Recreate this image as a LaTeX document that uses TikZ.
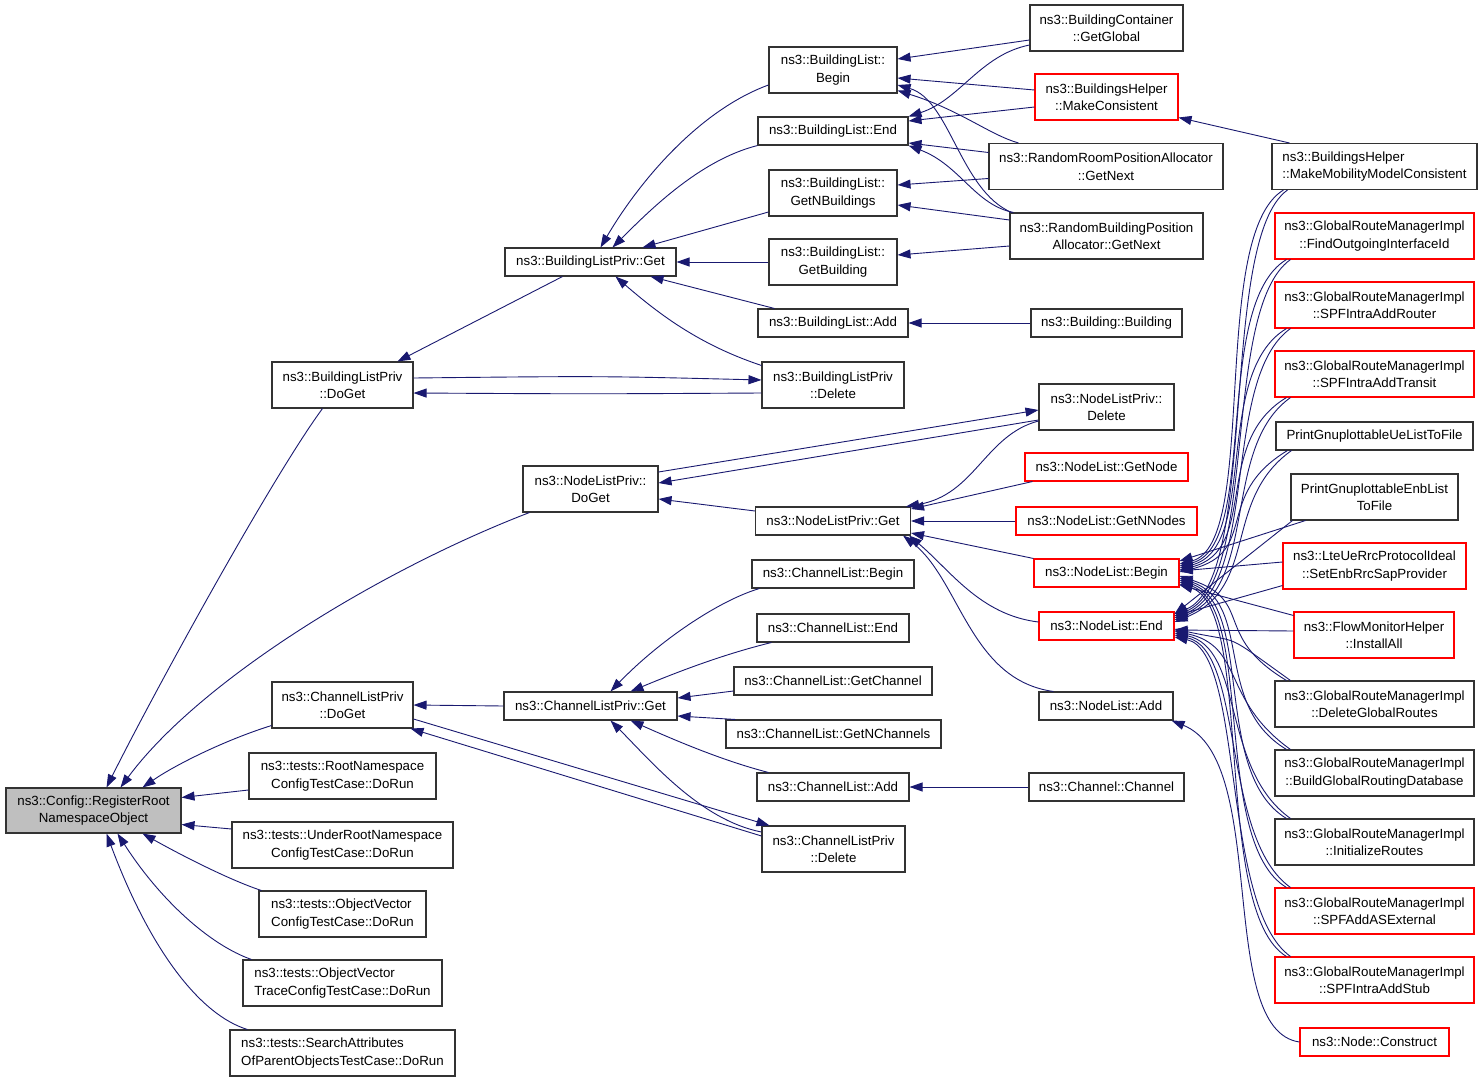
\documentclass[tikz,border=0pt]{standalone}
\usepackage{fontspec}
\setmainfont{Liberation Sans}
\usetikzlibrary{arrows.meta,calc}
\definecolor{edgec}{HTML}{191970}
\definecolor{redc}{HTML}{FF0000}
\definecolor{grayc}{HTML}{BFBFBF}
\definecolor{boxc}{HTML}{333333}
\begin{document}
\begin{tikzpicture}[x=1pt,y=-1pt,
  box/.style={draw=boxc, line width=1.05pt, fill=white, inner sep=0pt, align=center,
              font=\fontsize{13.3}{17.5}\selectfont},
  rbox/.style={box, draw=redc},
  edge/.style={draw=edgec, line width=0.9pt, arrows={Triangle[length=13pt,width=9pt]-}}]
\useasboundingbox (0,0) rectangle (1483,1081);
\fill[white] (0,0) rectangle (1483,1081);

% column 1
\node[box,fill=grayc,minimum width=175,minimum height=45] (rr) at (93.5,810.5) {ns3::Config::RegisterRoot\\NamespaceObject};
% column 2
\node[box,minimum width=187,minimum height=46] (t1) at (342.5,776) {ns3::tests::RootNamespace\\ConfigTestCase::DoRun};
\node[box,minimum width=221,minimum height=46] (t2) at (342.5,845) {ns3::tests::UnderRootNamespace\\ConfigTestCase::DoRun};
\node[box,align=left,minimum width=167,minimum height=46] (t3) at (342.5,914) {ns3::tests::ObjectVector\\ConfigTestCase::DoRun};
\node[box,align=left,minimum width=199,minimum height=46] (t4) at (342.5,983) {ns3::tests::ObjectVector\\TraceConfigTestCase::DoRun};
\node[box,align=left,minimum width=225,minimum height=46] (t5) at (342.5,1053) {ns3::tests::SearchAttributes\\OfParentObjectsTestCase::DoRun};
\node[box,minimum width=141,minimum height=46] (bpd) at (342.5,385) {ns3::BuildingListPriv\\::DoGet};
\node[box,minimum width=141,minimum height=46] (cpd) at (342.5,705) {ns3::ChannelListPriv\\::DoGet};
% column 3
\node[box,minimum width=135,minimum height=46] (npd) at (590.5,489) {ns3::NodeListPriv::\\DoGet};
\node[box,minimum width=171,minimum height=28] (bpg) at (590.5,262) {ns3::BuildingListPriv::Get};
\node[box,minimum width=173,minimum height=28] (cpg) at (590.5,706) {ns3::ChannelListPriv::Get};
% column 4
\node[box,minimum width=128,minimum height=46] (blbegin) at (833,70) {ns3::BuildingList::\\Begin};
\node[box,minimum width=150,minimum height=28] (blend) at (833,131) {ns3::BuildingList::End};
\node[box,minimum width=128,minimum height=46] (blgnb) at (833,193) {ns3::BuildingList::\\GetNBuildings};
\node[box,minimum width=128,minimum height=46] (blgb) at (833,262) {ns3::BuildingList::\\GetBuilding};
\node[box,minimum width=150,minimum height=28] (bladd) at (833,323) {ns3::BuildingList::Add};
\node[box,minimum width=142,minimum height=46] (bpdel) at (833,385) {ns3::BuildingListPriv\\::Delete};
\node[box,minimum width=155,minimum height=28] (npg) at (833,521) {ns3::NodeListPriv::Get};
\node[box,minimum width=162,minimum height=28] (clbegin) at (833,574) {ns3::ChannelList::Begin};
\node[box,minimum width=152,minimum height=28] (clend) at (833,628) {ns3::ChannelList::End};
\node[box,minimum width=198,minimum height=28] (clgc) at (833,681) {ns3::ChannelList::GetChannel};
\node[box,minimum width=215,minimum height=28] (clgnc) at (833.5,734) {ns3::ChannelList::GetNChannels};
\node[box,minimum width=152,minimum height=28] (cladd) at (833,787) {ns3::ChannelList::Add};
\node[box,minimum width=143,minimum height=46] (cpdel) at (833.5,849) {ns3::ChannelListPriv\\::Delete};
% column 5
\node[box,minimum width=153,minimum height=46] (bc) at (1106.5,28) {ns3::BuildingContainer\\::GetGlobal};
\node[rbox,minimum width=143,minimum height=46] (bhmc) at (1106.5,97) {ns3::BuildingsHelper\\::MakeConsistent};
\node[box,minimum width=234,minimum height=46] (rrpa) at (1106,166.5) {ns3::RandomRoomPositionAllocator\\::GetNext};
\node[box,minimum width=193,minimum height=46] (rbpa) at (1106.5,236) {ns3::RandomBuildingPosition\\Allocator::GetNext};
\node[box,minimum width=151,minimum height=28] (bb) at (1106.5,323) {ns3::Building::Building};
\node[box,minimum width=135,minimum height=46] (npdel) at (1106.5,407) {ns3::NodeListPriv::\\Delete};
\node[rbox,minimum width=163,minimum height=28] (nlgn) at (1106.5,467) {ns3::NodeList::GetNode};
\node[rbox,minimum width=181,minimum height=28] (nlgnn) at (1106.5,521) {ns3::NodeList::GetNNodes};
\node[rbox,minimum width=145,minimum height=28] (nlbegin) at (1106.5,573) {ns3::NodeList::Begin};
\node[rbox,minimum width=135,minimum height=28] (nlend) at (1106.5,626) {ns3::NodeList::End};
\node[box,minimum width=134,minimum height=28] (nladd) at (1106,706) {ns3::NodeList::Add};
\node[box,minimum width=155,minimum height=28] (ch) at (1106.5,787) {ns3::Channel::Channel};
% column 6
\node[box,align=left,minimum width=205,minimum height=46] (m6) at (1374.5,166.5) {ns3::BuildingsHelper\\::MakeMobilityModelConsistent};
\node[rbox,minimum width=199,minimum height=46] (g1) at (1374.5,236) {ns3::GlobalRouteManagerImpl\\::FindOutgoingInterfaceId};
\node[rbox,minimum width=199,minimum height=46] (g2) at (1374.5,305) {ns3::GlobalRouteManagerImpl\\::SPFIntraAddRouter};
\node[rbox,minimum width=199,minimum height=46] (g3) at (1374.5,374) {ns3::GlobalRouteManagerImpl\\::SPFIntraAddTransit};
\node[box,minimum width=197,minimum height=28] (pu) at (1374.5,436) {PrintGnuplottableUeListToFile};
\node[box,minimum width=167,minimum height=46] (pe) at (1374.5,497) {PrintGnuplottableEnbList\\ToFile};
\node[rbox,minimum width=183,minimum height=46] (lte) at (1374.5,566) {ns3::LteUeRrcProtocolIdeal\\::SetEnbRrcSapProvider};
\node[rbox,minimum width=160,minimum height=46] (fm) at (1374,635) {ns3::FlowMonitorHelper\\::InstallAll};
\node[box,minimum width=199,minimum height=46] (g4) at (1374.5,704) {ns3::GlobalRouteManagerImpl\\::DeleteGlobalRoutes};
\node[box,minimum width=199,minimum height=46] (g5) at (1374.5,773) {ns3::GlobalRouteManagerImpl\\::BuildGlobalRoutingDatabase};
\node[box,minimum width=199,minimum height=46] (g6) at (1374.5,842) {ns3::GlobalRouteManagerImpl\\::InitializeRoutes};
\node[rbox,minimum width=199,minimum height=46] (g7) at (1374.5,911) {ns3::GlobalRouteManagerImpl\\::SPFAddASExternal};
\node[rbox,minimum width=199,minimum height=46] (g8) at (1374.5,980) {ns3::GlobalRouteManagerImpl\\::SPFIntraAddStub};
\node[rbox,minimum width=149,minimum height=28] (nc) at (1374.5,1042) {ns3::Node::Construct};

% ---- edges into RegisterRoot
\draw[edge] ($(rr.north)+(13,0)$) .. controls (150,700) and (270,480) .. ($(bpd.south)+(-20,0)$);
\draw[edge] ($(rr.north)+(27,0)$) .. controls (200,680) and (380,570) .. ($(npd.south west)+(7,0)$);
\draw[edge] ($(rr.north)+(49,0)$) .. controls (175,765) and (225,740) .. ($(cpd.south west)+(0,-3)$);
\draw[edge] ($(rr.east)+(0,-13)$) -- ($(t1.west)+(0,14)$);
\draw[edge] ($(rr.east)+(0,14)$) -- ($(t2.west)+(0,-16)$);
\draw[edge] ($(rr.south)+(49,0)$) .. controls (190,860) and (235,882) .. ($(t3.north west)+(3,0)$);
\draw[edge] ($(rr.south)+(24,0)$) .. controls (160,900) and (210,945) .. ($(t4.north west)+(9,0)$);
\draw[edge] ($(rr.south)+(13,0)$) .. controls (150,950) and (200,1015) .. ($(t5.north west)+(18,0)$);

% ---- BuildingListPriv
\draw[edge] ($(bpd.north)+(55,0)$) -- ($(bpg.south)+(-28,0)$);
\draw[edge] ($(bpdel.west)+(0,-5)$) .. controls (600,376) .. ($(bpd.east)+(0,-7)$);
\draw[edge] ($(bpd.east)+(0,8)$) .. controls (590,394) .. ($(bpdel.west)+(0,8)$);
\draw[edge] ($(bpg.north)+(10,0)$) .. controls (640,180) and (700,110) .. ($(blbegin.west)+(0,15)$);
\draw[edge] ($(bpg.north)+(22,0)$) .. controls (650,210) and (700,160) .. ($(blend.south west)+(0,0)$);
\draw[edge] ($(bpg.north)+(52,0)$) -- ($(blgnb.west)+(0,19)$);
\draw[edge] (bpg.east) -- (blgb.west);
\draw[edge] ($(bpg.south)+(60,0)$) -- ($(bladd.north west)+(17,0)$);
\draw[edge] ($(bpg.south)+(25,0)$) .. controls (660,315) and (700,345) .. ($(bpdel.north west)+(0,4)$);

% ---- BuildingList callers
\draw[edge] ($(blbegin.east)+(0,-11)$) -- ($(bc.west)+(0,12)$);
\draw[edge] ($(blbegin.east)+(0,8)$) -- ($(bhmc.west)+(0,-7)$);
\draw[edge] ($(blbegin.south east)+(0,-3)$) .. controls (960,110) and (990,135) .. ($(rrpa.north west)+(30,0)$);
\draw[edge] ($(blbegin.east)+(0,15)$) .. controls (950,100) and (960,190) .. ($(rbpa.north west)+(2,0)$);
\draw[edge] (blend.north east) .. controls (960,100) and (980,55) .. ($(bc.west)+(0,17)$);
\draw[edge] ($(blend.east)+(0,-10)$) -- ($(bhmc.west)+(0,10)$);
\draw[edge] ($(blend.east)+(0,12)$) -- ($(rrpa.west)+(0,-14)$);
\draw[edge] (blend.south east) .. controls (960,165) and (975,205) .. ($(rbpa.north west)+(4,0)$);
\draw[edge] ($(blgnb.east)+(0,-8)$) -- ($(rrpa.west)+(0,12)$);
\draw[edge] ($(blgnb.east)+(0,12)$) -- ($(rbpa.west)+(0,-16)$);
\draw[edge] ($(blgb.east)+(0,-7)$) -- ($(rbpa.west)+(0,10)$);
\draw[edge] (bladd.east) -- (bb.west);
\draw[edge] ($(bhmc.south east)+(0,-3)$) -- ($(m6.north west)+(18,0)$);

% ---- NodeListPriv
\draw[edge] ($(npd.east)+(0,10)$) -- ($(npg.west)+(0,-10)$);
\draw[edge] ($(npdel.west)+(0,3)$) -- ($(npd.east)+(0,-17)$);
\draw[edge] ($(npd.east)+(0,-6)$) -- ($(npdel.west)+(0,13)$);
\draw[edge] ($(npg.north east)+(-5,0)$) .. controls (975,495) and (985,435) .. ($(npdel.west)+(0,14)$);
\draw[edge] ($(npg.east)+(0,-12)$) -- ($(nlgn.south west)+(8,0)$);
\draw[edge] (npg.east) -- (nlgnn.west);
\draw[edge] ($(npg.east)+(0,12)$) -- (nlbegin.north west);
\draw[edge] ($(npg.south east)+(-2,0)$) .. controls (950,570) and (980,615) .. ($(nlend.west)+(0,-4)$);
\draw[edge] ($(npg.south east)+(-8,0)$) .. controls (960,580) and (970,680) .. ($(nladd.north west)+(15,0)$);

% ---- ChannelListPriv
\draw[edge] (cpd.east) -- (cpg.west);
\draw[edge] ($(cpdel.north west)+(8,0)$) -- ($(cpd.east)+(0,14)$);
\draw[edge] ($(cpd.south east)+(-3,0)$) -- ($(cpdel.west)+(0,-13)$);
\draw[edge] ($(cpg.north)+(20,0)$) .. controls (660,640) and (720,600) .. ($(clbegin.south west)+(8,0)$);
\draw[edge] ($(cpg.north)+(40,0)$) .. controls (670,675) and (720,655) .. ($(clend.south west)+(15,0)$);
\draw[edge] ($(cpg.east)+(0,-8)$) -- ($(clgc.west)+(0,10)$);
\draw[edge] ($(cpg.east)+(0,10)$) -- ($(clgnc.north west)+(10,0)$);
\draw[edge] ($(cpg.south)+(40,0)$) .. controls (670,738) and (720,760) .. ($(cladd.north west)+(12,0)$);
\draw[edge] ($(cpg.south)+(20,0)$) .. controls (650,760) and (700,820) .. ($(cpdel.west)+(0,-17)$);
\draw[edge] (cladd.east) -- (ch.west);

% ---- NodeList callers
\draw[edge] ($(nladd.south east)+(-2,0)$) .. controls (1270,760) and (1215,1030) .. (nc.west);
\foreach \n/\a/\b in {m6/-9/-12, g1/-7/-10, g2/-5/-8, g3/-3/-6, pu/-1/-4} {
  \draw[edge] ($(nlbegin.east)+(0,\a)$) .. controls +(80,-20) and +(-75,45) .. ($(\n.south west)+(12,0)$);
  \draw[edge] ($(nlend.east)+(0,\b)$) .. controls +(85,-35) and +(-70,50) .. ($(\n.south west)+(16,0)$);
}
\foreach \n/\a/\b in {g4/3/3, g5/5/5, g6/7/7, g7/9/9, g8/11/11} {
  \draw[edge] ($(nlbegin.east)+(0,\a)$) .. controls +(75,25) and +(-75,-45) .. ($(\n.north west)+(12,0)$);
  \draw[edge] ($(nlend.east)+(0,\b)$) .. controls +(70,15) and +(-70,-50) .. ($(\n.north west)+(16,0)$);
}
\draw[edge] ($(nlbegin.east)+(0,-12)$) -- ($(pe.south west)+(15,0)$);
\draw[edge] ($(nlend.east)+(0,-12)$) -- ($(pe.south west)+(2,0)$);
\draw[edge] ($(nlbegin.east)+(0,-2)$) -- ($(lte.west)+(0,-4)$);
\draw[edge] ($(nlend.east)+(0,-10)$) -- ($(lte.south west)+(0,-4)$);
\draw[edge] ($(nlbegin.east)+(0,12)$) -- ($(fm.north west)+(0,4)$);
\draw[edge] ($(nlend.east)+(0,4)$) -- ($(fm.west)+(0,-4)$);
\end{tikzpicture}
\end{document}
